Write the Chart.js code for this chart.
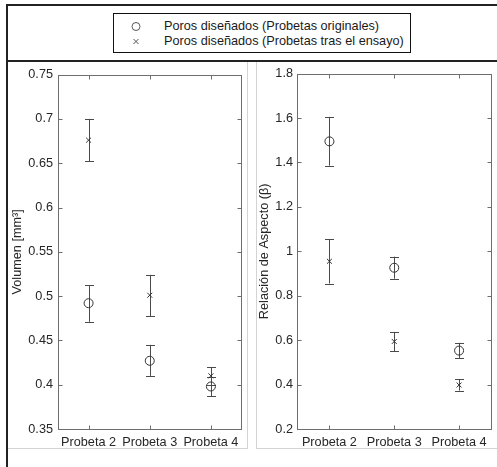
<!DOCTYPE html>
<html><head><meta charset="utf-8">
<script src="https://cdn.jsdelivr.net/npm/chart.js@4"></script>
<style>
html,body{margin:0;padding:0;background:#fff;}
body{width:497px;height:467px;position:relative;overflow:hidden;font-family:"Liberation Sans",Arial,Helvetica,sans-serif;}
.abs{position:absolute;}
.lg{position:absolute;left:50px;font-size:12.7px;color:#1a1a1a;white-space:nowrap;line-height:15px;}
</style></head><body>
<!-- figure frames -->
<div class="abs" style="left:6px;top:4px;width:491px;height:2px;background:#222"></div>
<div class="abs" style="left:6px;top:4px;width:2px;height:463px;background:#222"></div>
<div class="abs" style="left:6px;top:60px;width:491px;height:2px;background:#222"></div>
<div class="abs" style="left:247px;top:62px;width:1px;height:386px;background:#d4d4d4"></div>
<div class="abs" style="left:8px;top:448px;width:240px;height:1px;background:#d4d4d4"></div>
<div class="abs" style="left:256px;top:62px;width:1px;height:387px;background:#d4d4d4"></div>
<div class="abs" style="left:256px;top:448px;width:241px;height:1px;background:#d4d4d4"></div>
<!-- legend -->
<div class="abs" style="left:113px;top:13px;width:298px;height:40px;border:1.5px solid #111;box-sizing:border-box;">
  <canvas id="lgMarks" class="abs" width="40" height="37" style="left:0;top:0;"></canvas>
  <div class="lg" id="lg1" style="top:5px"></div>
  <div class="lg" id="lg2" style="top:20px"></div>
</div>
<canvas id="cL" class="abs" width="239" height="386" style="left:8px;top:62px;"></canvas>
<canvas id="cR" class="abs" width="240" height="386" style="left:257px;top:62px;"></canvas>
<script>
// ---- data ----
const categories = ['Probeta 2', 'Probeta 3', 'Probeta 4'];
const seriesNames = ['Poros diseñados (Probetas originales)', 'Poros diseñados (Probetas tras el ensayo)'];

const volOrig     = [0.492, 0.427, 0.398];
const volOrigLow  = [0.471, 0.410, 0.387];
const volOrigHigh = [0.512, 0.445, 0.409];
const volTras     = [0.676, 0.501, 0.410];
const volTrasLow  = [0.652, 0.477, 0.400];
const volTrasHigh = [0.700, 0.524, 0.420];

const relOrig     = [1.495, 0.926, 0.553];
const relOrigLow  = [1.386, 0.877, 0.520];
const relOrigHigh = [1.605, 0.976, 0.588];
const relTras     = [0.955, 0.594, 0.398];
const relTrasLow  = [0.855, 0.551, 0.373];
const relTrasHigh = [1.055, 0.637, 0.424];

const volTicks = [0.35, 0.4, 0.45, 0.5, 0.55, 0.6, 0.65, 0.7, 0.75];
const volTickLabels = ['0.35', '0.4', '0.45', '0.5', '0.55', '0.6', '0.65', '0.7', '0.75'];
const relTicks = [0.2, 0.4, 0.6, 0.8, 1.0, 1.2, 1.4, 1.6, 1.8];
const relTickLabels = ['0.2', '0.4', '0.6', '0.8', '1', '1.2', '1.4', '1.6', '1.8'];

const volTitle = 'Volumen [mm³]';
const relTitle = 'Relación de Aspecto (β)';

// ---- legend ----
document.getElementById('lg1').textContent = seriesNames[0];
document.getElementById('lg2').textContent = seriesNames[1];
(function(){
  const c = document.getElementById('lgMarks').getContext('2d');
  c.strokeStyle = '#555'; c.lineWidth = 1;
  c.beginPath(); c.arc(22, 12.5, 4, 0, Math.PI*2); c.stroke();
  c.beginPath(); c.moveTo(19.5, 25); c.lineTo(24.5, 30); c.moveTo(24.5, 25); c.lineTo(19.5, 30); c.stroke();
})();

const FONT = {family: '"Liberation Sans", Arial, Helvetica, sans-serif', size: 12.7};
const TXT = '#262626';
const AX = '#6e6e6e';

const errPlugin = {
  id: 'errbars',
  beforeDatasetsDraw(chart) {
    const ctx = chart.ctx, xs = chart.scales.x, ys = chart.scales.y;
    ctx.save();
    ctx.strokeStyle = '#4a4a4a'; ctx.lineWidth = 1;
    chart.data.datasets.forEach(ds => {
      ds.data.forEach((v, i) => {
        const x = Math.round(xs.getPixelForValue(i)) + 0.5;
        const y1 = ys.getPixelForValue(ds.errLow[i]);
        const y2 = ys.getPixelForValue(ds.errHigh[i]);
        ctx.beginPath();
        ctx.moveTo(x, y1); ctx.lineTo(x, y2);
        ctx.moveTo(x - 4.5, Math.round(y1)+0.5); ctx.lineTo(x + 4.5, Math.round(y1)+0.5);
        ctx.moveTo(x - 4.5, Math.round(y2)+0.5); ctx.lineTo(x + 4.5, Math.round(y2)+0.5);
        ctx.stroke();
      });
    });
    ctx.restore();
  }
};

const framePlugin = {
  id: 'frame',
  afterDraw(chart) {
    const ctx = chart.ctx, a = chart.chartArea, xs = chart.scales.x, ys = chart.scales.y;
    ctx.save();
    ctx.strokeStyle = AX; ctx.lineWidth = 1;
    const L = Math.round(a.left) + 0.5, R = Math.round(a.right) - 0.5;
    const T = Math.round(a.top) + 0.5, B = Math.round(a.bottom) + 0.5;
    ctx.strokeRect(L, T, R - L, B - T);
    ctx.beginPath();
    ys.ticks.forEach(t => {
      const y = Math.round(ys.getPixelForValue(t.value)) + 0.5;
      ctx.moveTo(L, y); ctx.lineTo(L + 4, y);
      ctx.moveTo(R, y); ctx.lineTo(R - 4, y);
    });
    categories.forEach((c, i) => {
      const x = Math.round(xs.getPixelForValue(i)) + 0.5;
      ctx.moveTo(x, B); ctx.lineTo(x, B - 4);
      ctx.moveTo(x, T); ctx.lineTo(x, T + 4);
    });
    ctx.stroke();
    ctx.restore();
  }
};

function makeChart(id, o, oL, oH, t, tL, tH, ticks, tickLabels, title, yW, padR, titlePad, labPad) {
  return new Chart(document.getElementById(id), {
    type: 'line',
    data: {
      labels: categories,
      datasets: [
        {label: seriesNames[0], data: o, errLow: oL, errHigh: oH, showLine: false,
         pointStyle: 'circle', pointRadius: 4.5, pointBorderWidth: 1,
         pointBorderColor: '#333', pointBackgroundColor: 'rgba(0,0,0,0)'},
        {label: seriesNames[1], data: t, errLow: tL, errHigh: tH, showLine: false,
         pointStyle: 'crossRot', pointRadius: 3.5, pointBorderWidth: 1,
         pointBorderColor: '#333', pointBackgroundColor: 'rgba(0,0,0,0)'}
      ]
    },
    options: {
      responsive: false, animation: false,
      layout: {padding: {top: 7, right: padR, left: 0, bottom: 0}},
      plugins: {legend: {display: false}, tooltip: {enabled: false}},
      scales: {
        x: {
          type: 'category', offset: true,
          grid: {display: false, drawTicks: false}, border: {display: false},
          ticks: {font: FONT, color: TXT, padding: 6, maxRotation: 0, autoSkip: false},
          afterFit(s) { s.height = 19; }
        },
        y: {
          type: 'linear', min: ticks[0], max: ticks[ticks.length - 1],
          grid: {display: false, drawTicks: false}, border: {display: false},
          afterBuildTicks(s) { s.ticks = ticks.map(v => ({value: v})); },
          ticks: {font: FONT, color: TXT, padding: labPad,
                  callback: (v, i) => tickLabels[i]},
          title: {display: true, text: title, font: FONT, color: TXT, padding: {top: titlePad, bottom: 0}},
          afterFit(s) { s.width = yW; }
        }
      }
    },
    plugins: [errPlugin, framePlugin]
  });
}

makeChart('cL', volOrig, volOrigLow, volOrigHigh, volTras, volTrasLow, volTrasHigh,
          volTicks, volTickLabels, volTitle, 50, 2, 1.5, 5);
makeChart('cR', relOrig, relOrigLow, relOrigHigh, relTras, relTrasLow, relTrasHigh,
          relTicks, relTickLabels, relTitle, 40, 1, 0, 4);
</script>
</body></html>
